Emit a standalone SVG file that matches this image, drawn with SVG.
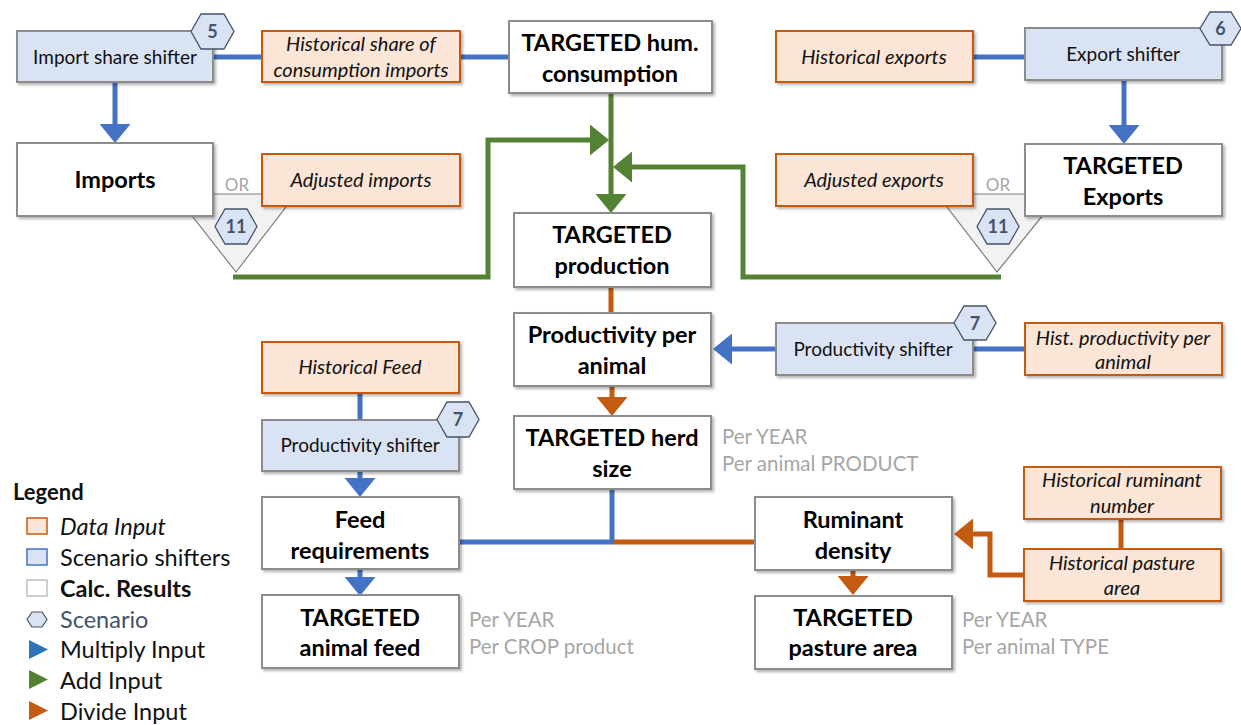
<svg xmlns="http://www.w3.org/2000/svg" width="1241" height="725" viewBox="0 0 1241 725">
<style>
text{font-family:Lato,"Open Sans","Liberation Sans",sans-serif;text-anchor:middle}
.data{fill:#fbe5d6;stroke:#c55a11;stroke-width:2}
.shift{fill:#dae3f3;stroke:#8c8c8c;stroke-width:2}
.calc{fill:#ffffff;stroke:#8c8c8c;stroke-width:2}
.hex{fill:#dae3f3;stroke:#44546a;stroke-width:1.3}
.hext{font-size:18px;font-weight:bold;fill:#44546a}
.reg{font-size:19px;fill:#111}
.it{font-size:20px;font-style:italic;fill:#111}
.bold{font-size:23.5px;font-weight:bold;fill:#000}
.note{font-size:20.5px;fill:#a6a6a6;text-anchor:start}
.or{font-size:17px;fill:#a6a6a6}
.b{stroke:#4472c4;stroke-width:5;fill:none}
.g{stroke:#548235;stroke-width:5;fill:none}
.o{stroke:#c55a11;stroke-width:5;fill:none}
.tri{fill:#f2f2f2;stroke:#7f7f7f;stroke-width:1.2}
.leg{font-size:23.5px;fill:#111;text-anchor:start}
</style>
<defs>
<filter id="sh" x="-10%" y="-10%" width="125%" height="130%">
<feDropShadow dx="2" dy="2" stdDeviation="1.5" flood-color="#000" flood-opacity="0.3"/>
</filter>
<marker id="ab" markerUnits="userSpaceOnUse" viewBox="0 0 19 31" markerWidth="19" markerHeight="31" refX="0" refY="15.5" orient="auto"><path d="M0,0 L19,15.5 L0,31 z" fill="#4472c4"/></marker>
<marker id="ag" markerUnits="userSpaceOnUse" viewBox="0 0 19 31" markerWidth="19" markerHeight="31" refX="0" refY="15.5" orient="auto"><path d="M0,0 L19,15.5 L0,31 z" fill="#548235"/></marker>
<marker id="ao" markerUnits="userSpaceOnUse" viewBox="0 0 19 31" markerWidth="19" markerHeight="31" refX="0" refY="15.5" orient="auto"><path d="M0,0 L19,15.5 L0,31 z" fill="#c55a11"/></marker>
</defs>
<rect width="1241" height="725" fill="#fff"/>

<g id="or-imports">
<polygon class="tri" points="175,194 296,194 236,272"/>
<text class="or" x="237" y="191">OR</text>
</g>
<g id="or-exports">
<polygon class="tri" points="937,194 1060,194 997,272"/>
<text class="or" x="998" y="191">OR</text>
</g>

<g id="connectors">
<line class="b" x1="213" y1="57" x2="262" y2="57"/>
<line class="b" x1="460" y1="57" x2="509" y2="57"/>
<line class="b" x1="115" y1="82" x2="115" y2="124" marker-end="url(#ab)"/>
<line class="b" x1="973" y1="57" x2="1025" y2="57"/>
<line class="b" x1="1124" y1="80" x2="1124" y2="125" marker-end="url(#ab)"/>
<line class="b" x1="1025" y1="349" x2="973" y2="349"/>
<line class="b" x1="776" y1="349" x2="732" y2="349" marker-end="url(#ab)"/>
<line class="b" x1="360" y1="393" x2="360" y2="420"/>
<line class="b" x1="360" y1="471" x2="360" y2="478" marker-end="url(#ab)"/>
<line class="b" x1="360" y1="569" x2="360" y2="577" marker-end="url(#ab)"/>
<polyline class="b" points="612,489 612,542 459,542"/>
<line class="o" x1="611" y1="287" x2="611" y2="313"/>
<line class="o" x1="612" y1="386" x2="612" y2="397" marker-end="url(#ao)"/>
<line class="o" x1="614" y1="542" x2="754" y2="542"/>
<line class="o" x1="1121" y1="519" x2="1121" y2="549"/>
<polyline class="o" points="1024,575 990,575 990,534 973,534" marker-end="url(#ao)"/>
<line class="o" x1="853" y1="570" x2="853" y2="576" marker-end="url(#ao)"/>
<polyline class="g" points="233,277 488,277 488,140 590,140" marker-end="url(#ag)"/>
<polyline class="g" points="1001,277 743,277 743,167 632,167" marker-end="url(#ag)"/>
<line class="g" x1="611" y1="94" x2="611" y2="194" marker-end="url(#ag)"/>
</g>

<g id="import-share-shifter">
<rect class="shift" x="17" y="31" width="196" height="51" filter="url(#sh)"/>
<text class="reg" x="115" y="64">Import share shifter</text>
</g>
<g id="hex-5">
<polygon class="hex" points="191,31.5 201,14 224,14 234,31.5 224,49 201,49"/>
<text class="hext" x="212.5" y="38">5</text>
</g>
<g id="hist-share-imports">
<rect class="data" x="262" y="31" width="198" height="51" filter="url(#sh)"/>
<text class="it" x="361" y="51">Historical share of</text>
<text class="it" x="361" y="77">consumption imports</text>
</g>
<g id="targeted-hum-consumption">
<rect class="calc" x="509" y="21" width="203" height="72" filter="url(#sh)"/>
<text class="bold" x="610" y="51">TARGETED hum.</text>
<text class="bold" x="610" y="82">consumption</text>
</g>
<g id="hist-exports">
<rect class="data" x="776" y="31" width="197" height="51" filter="url(#sh)"/>
<text class="it" x="874" y="64">Historical exports</text>
</g>
<g id="export-shifter">
<rect class="shift" x="1025" y="28" width="197" height="52" filter="url(#sh)"/>
<text class="reg" x="1123" y="61">Export shifter</text>
</g>
<g id="hex-6">
<polygon class="hex" points="1200,28.5 1210,12 1231,12 1241,28.5 1231,45 1210,45"/>
<text class="hext" x="1220.5" y="35">6</text>
</g>
<g id="imports">
<rect class="calc" x="17" y="143" width="196" height="73" filter="url(#sh)"/>
<text class="bold" x="115" y="188">Imports</text>
</g>
<g id="adjusted-imports">
<rect class="data" x="262" y="154" width="198" height="52" filter="url(#sh)"/>
<text class="it" x="361" y="187">Adjusted imports</text>
</g>
<g id="hex-11-left">
<polygon class="hex" points="215,226.5 225,209 247,209 257,226.5 247,244 225,244"/>
<text class="hext" x="236" y="233">11</text>
</g>
<g id="adjusted-exports">
<rect class="data" x="776" y="154" width="197" height="52" filter="url(#sh)"/>
<text class="it" x="874" y="187">Adjusted exports</text>
</g>
<g id="targeted-exports">
<rect class="calc" x="1025" y="144" width="197" height="72" filter="url(#sh)"/>
<text class="bold" x="1123" y="174">TARGETED</text>
<text class="bold" x="1123" y="205">Exports</text>
</g>
<g id="hex-11-right">
<polygon class="hex" points="977,226.5 987,209 1009,209 1019,226.5 1009,244 987,244"/>
<text class="hext" x="998" y="233">11</text>
</g>
<g id="targeted-production">
<rect class="calc" x="514" y="213" width="197" height="74" filter="url(#sh)"/>
<text class="bold" x="612" y="243">TARGETED</text>
<text class="bold" x="612" y="274">production</text>
</g>
<g id="productivity-per-animal">
<rect class="calc" x="514" y="313" width="197" height="73" filter="url(#sh)"/>
<text class="bold" x="612" y="343">Productivity per</text>
<text class="bold" x="612" y="374">animal</text>
</g>
<g id="productivity-shifter-right">
<rect class="shift" x="776" y="323" width="197" height="52" filter="url(#sh)"/>
<text class="reg" x="873" y="356">Productivity shifter</text>
</g>
<g id="hex-7-right">
<polygon class="hex" points="954,323 964,306 986,306 996,323 986,340 964,340"/>
<text class="hext" x="975" y="330">7</text>
</g>
<g id="hist-productivity">
<rect class="data" x="1025" y="323" width="197" height="52" filter="url(#sh)"/>
<text class="it" x="1123" y="345">Hist. productivity per</text>
<text class="it" x="1123" y="369">animal</text>
</g>
<g id="targeted-herd-size">
<rect class="calc" x="514" y="416" width="197" height="73" filter="url(#sh)"/>
<text class="bold" x="612" y="446">TARGETED herd</text>
<text class="bold" x="612" y="477">size</text>
</g>
<text class="note" x="722" y="444">Per YEAR</text>
<text class="note" x="722" y="471">Per animal PRODUCT</text>
<g id="historical-feed">
<rect class="data" x="262" y="342" width="197" height="51" filter="url(#sh)"/>
<text class="it" x="360" y="374">Historical Feed</text>
</g>
<g id="productivity-shifter-left">
<rect class="shift" x="262" y="420" width="197" height="51" filter="url(#sh)"/>
<text class="reg" x="360" y="452">Productivity shifter</text>
</g>
<g id="hex-7-left">
<polygon class="hex" points="437,419.5 447,402 469,402 479,419.5 469,437 447,437"/>
<text class="hext" x="458" y="426">7</text>
</g>
<g id="feed-requirements">
<rect class="calc" x="262" y="497" width="197" height="72" filter="url(#sh)"/>
<text class="bold" x="360" y="528">Feed</text>
<text class="bold" x="360" y="559">requirements</text>
</g>
<g id="targeted-animal-feed">
<rect class="calc" x="262" y="595" width="197" height="73" filter="url(#sh)"/>
<text class="bold" x="360" y="626">TARGETED</text>
<text class="bold" x="360" y="656">animal feed</text>
</g>
<text class="note" x="469" y="627">Per YEAR</text>
<text class="note" x="469" y="654">Per CROP product</text>
<g id="ruminant-density">
<rect class="calc" x="755" y="497" width="197" height="73" filter="url(#sh)"/>
<text class="bold" x="853" y="528">Ruminant</text>
<text class="bold" x="853" y="559">density</text>
</g>
<g id="targeted-pasture-area">
<rect class="calc" x="755" y="596" width="197" height="73" filter="url(#sh)"/>
<text class="bold" x="853" y="626">TARGETED</text>
<text class="bold" x="853" y="656">pasture area</text>
</g>
<text class="note" x="962" y="627">Per YEAR</text>
<text class="note" x="962" y="654">Per animal TYPE</text>
<g id="hist-ruminant-number">
<rect class="data" x="1024" y="467" width="197" height="52" filter="url(#sh)"/>
<text class="it" x="1122" y="487">Historical ruminant</text>
<text class="it" x="1122" y="513">number</text>
</g>
<g id="hist-pasture-area">
<rect class="data" x="1024" y="549" width="197" height="52" filter="url(#sh)"/>
<text class="it" x="1122" y="570">Historical pasture</text>
<text class="it" x="1122" y="595">area</text>
</g>

<g id="legend">
<text class="leg" x="13" y="500" style="font-weight:bold;font-size:22px">Legend</text>
<rect x="27" y="518" width="20" height="16" fill="#fbe5d6" stroke="#c55a11" stroke-width="1.5"/>
<text class="leg" x="60" y="535" style="font-style:italic">Data Input</text>
<rect x="27" y="549" width="20" height="16" fill="#dae3f3" stroke="#4472c4" stroke-width="1.5"/>
<text class="leg" x="60" y="566">Scenario shifters</text>
<rect x="27" y="580" width="20" height="16" fill="#fff" stroke="#bfbfbf" stroke-width="1.5"/>
<text class="leg" x="60" y="597" style="font-weight:bold">Calc. Results</text>
<polygon points="27,619.5 32,612 42,612 47,619.5 42,627 32,627" fill="#dae3f3" stroke="#44546a" stroke-width="1.2"/>
<text class="leg" x="60" y="628" style="fill:#44546a">Scenario</text>
<polygon points="29,640 48,649.5 29,659" fill="#2e75b6"/>
<text class="leg" x="60" y="658">Multiply Input</text>
<polygon points="29,670 48,679.5 29,689" fill="#548235"/>
<text class="leg" x="60" y="689">Add Input</text>
<polygon points="29,701 48,710.5 29,720" fill="#c55a11"/>
<text class="leg" x="60" y="720">Divide Input</text>
</g>
</svg>
